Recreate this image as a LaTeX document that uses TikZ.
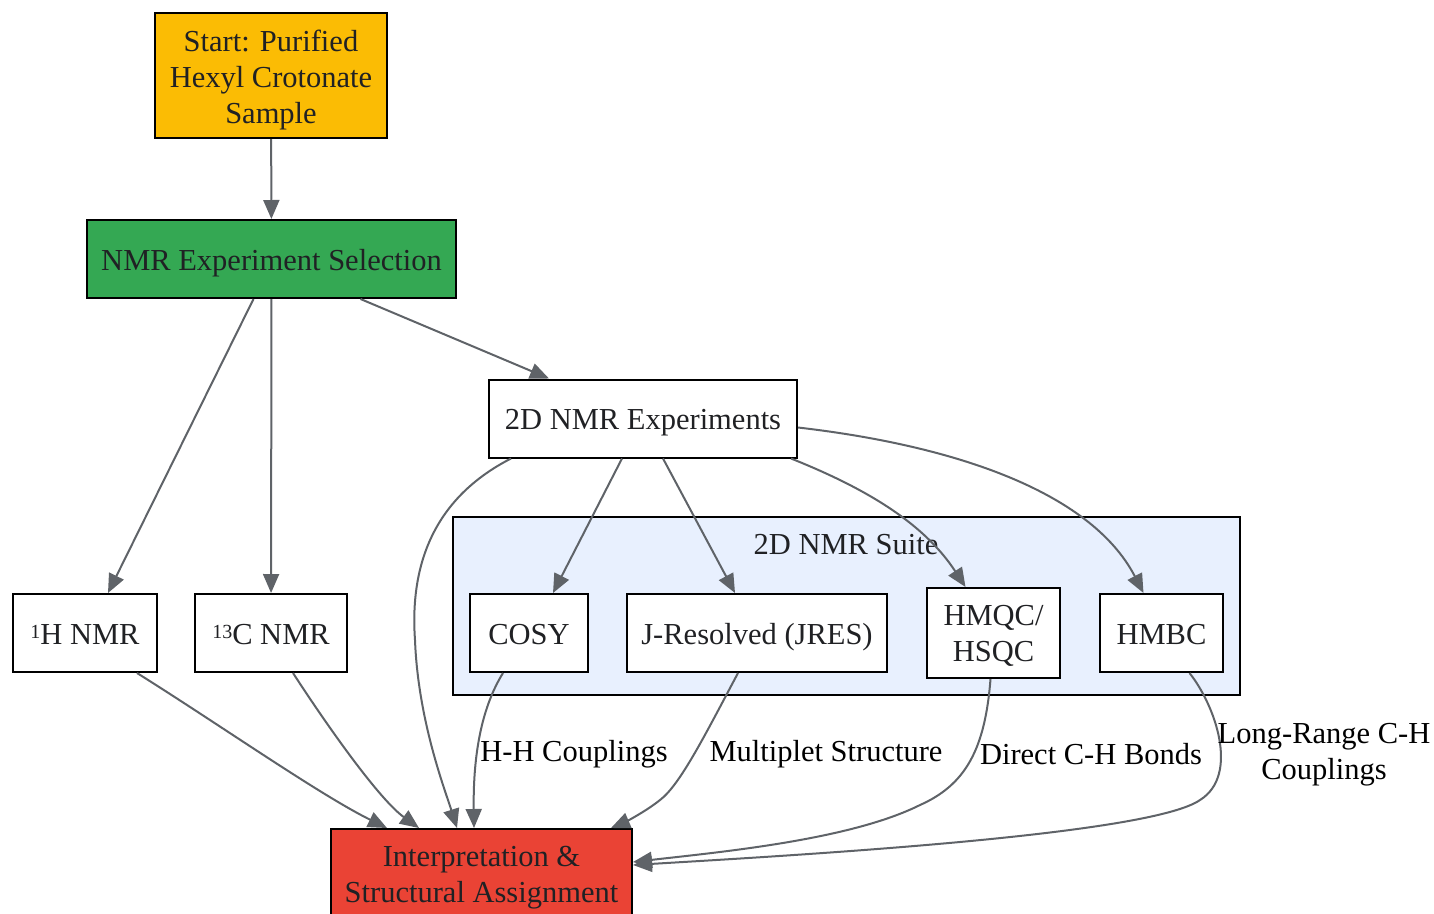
\documentclass[tikz,border=0pt]{standalone}
\usepackage{fontspec}
\setmainfont{Liberation Serif}
\usepackage{xcolor}
\usepackage{tikz}
\usetikzlibrary{shapes,arrows,positioning,calc,arrows.meta}

\definecolor{startfill}{HTML}{FBBC04}
\definecolor{selectfill}{HTML}{34A853}
\definecolor{interpfill}{HTML}{EA4335}
\definecolor{suitefill}{HTML}{E8F0FE}
\definecolor{edgegray}{HTML}{5F6368}
\definecolor{inktext}{HTML}{202124}

\begin{document}
\begin{tikzpicture}[x=1pt,y=-1pt,
    font=\fontsize{30.5}{36}\selectfont,
    box/.style={draw=black, line width=2pt, text=inktext, align=center, inner sep=0pt, minimum height=78pt,
        execute at begin node={\rule[-8pt]{0pt}{38pt}},
        execute at end node={\rule[-8pt]{0pt}{0pt}}},
    twoline/.style={minimum height=90pt, text height=65pt, text depth=8pt},
    threeline/.style={minimum height=125pt, text height=104pt, text depth=8pt},
    link/.style={draw=edgegray, line width=2pt, -{Triangle[length=19pt,width=16pt]}},
    lbl/.style={text=black, align=center, inner sep=0pt}]
    \useasboundingbox (0,0) rectangle (1434,913);

    % Suite cluster
    \draw[fill=suitefill, line width=2pt] (453,517) rectangle (1240,695);
    \node[lbl, text=inktext] (suite) at (846,545) {2D NMR Suite};

    % Nodes
    \node[box, threeline, fill=startfill, minimum width=232pt] (start) at (271,75.5) {Start: Purified\\Hexyl Crotonate\\Sample};
    \node[box, fill=selectfill, minimum width=369pt] (select) at (271.5,259) {NMR Experiment Selection};
    \node[box, fill=white, minimum width=308pt] (twod) at (643,418.5) {2D NMR Experiments};
    \node[box, fill=white, minimum width=144pt] (hone) at (85,633) {{\fontsize{20}{20}\selectfont\raisebox{6pt}{1}}H NMR};
    \node[box, fill=white, minimum width=152pt] (cthirteen) at (271,633) {{\fontsize{20}{20}\selectfont\raisebox{6pt}{13}}C NMR};
    \node[box, fill=white, minimum width=118pt] (cosy) at (529,633) {COSY};
    \node[box, fill=white, minimum width=260pt] (jres) at (757,633) {J-Resolved (JRES)};
    \node[box, twoline, fill=white, minimum width=133pt] (hmqc) at (993.5,633) {HMQC/\\HSQC};
    \node[box, fill=white, minimum width=123pt] (hmbc) at (1161.5,633) {HMBC};
    \node[box, twoline, fill=interpfill, minimum width=301pt] (interp) at (481.5,874) {Interpretation \&\\Structural Assignment};

    % Top flow
    \draw[link] (start) -- (select);
    \draw[link] ($(select.south)+(-18,0)$) -- ($(hone.north)+(23,0)$);
    \draw[link] (select) -- (cthirteen);
    \draw[link] ($(select.south)+(89,0)$) -- ($(twod.north west)+(61,0)$);

    % 2D experiments
    \draw[link] ($(twod.south)+(-21,0)$) -- ($(cosy.north)+(24,0)$);
    \draw[link] ($(twod.south)+(20,0)$) -- ($(jres.north)+(-22,0)$);
    \draw[link] ($(twod.south east)+(-7,0)$) .. controls (870,490) and (925,525) .. ($(hmqc.north)+(-28,0)$);
    \draw[link] ($(twod.east)+(0,9)$) .. controls (950,445) and (1090,490) .. ($(hmbc.north)+(-18,0)$);
    \draw[link] ($(twod.south west)+(23,0)$) .. controls (430,500) and (410,570) .. (415,640)
        .. controls (418,720) and (445,790) .. ($(interp.north west)+(127,0)$);

    % Into interpretation
    \draw[link] ($(hone.south)+(52,0)$) .. controls (220,725) and (320,795) .. ($(interp.north west)+(57,0)$);
    \draw[link] ($(cthirteen.south)+(22,0)$) .. controls (330,730) and (380,800) .. ($(interp.north west)+(89,0)$);
    \draw[link] ($(cosy.south)+(-26,0)$) .. controls (480,710) and (473,760) .. ($(interp.north west)+(144,0)$);
    \draw[link] ($(jres.south)+(-19,0)$) .. controls (705,735) and (680,785) .. (660,800)
        .. controls (645,812) and (625,822) .. ($(interp.north east)+(-22,0)$);
    \draw[link] ($(hmqc.south)+(-3,0)$) .. controls (985,750) and (965,785) .. (920,805)
        .. controls (850,840) and (720,852) .. ($(interp.east)+(0,-12)$);
    \draw[link] ($(hmbc.south)+(28,0)$) .. controls (1215,705) and (1240,775) .. (1200,800)
        .. controls (1150,835) and (800,855) .. ($(interp.east)+(0,-9)$);

    % Edge labels
    \node[lbl] (hhlbl) at (574,754) {H-H Couplings};
    \node[lbl] (multlbl) at (826,754) {Multiplet Structure};
    \node[lbl] (directlbl) at (1091,754) {Direct C-H Bonds};
    \node[lbl] (longlbl) at (1324,755) {Long-Range C-H\\Couplings};
\end{tikzpicture}
\end{document}
